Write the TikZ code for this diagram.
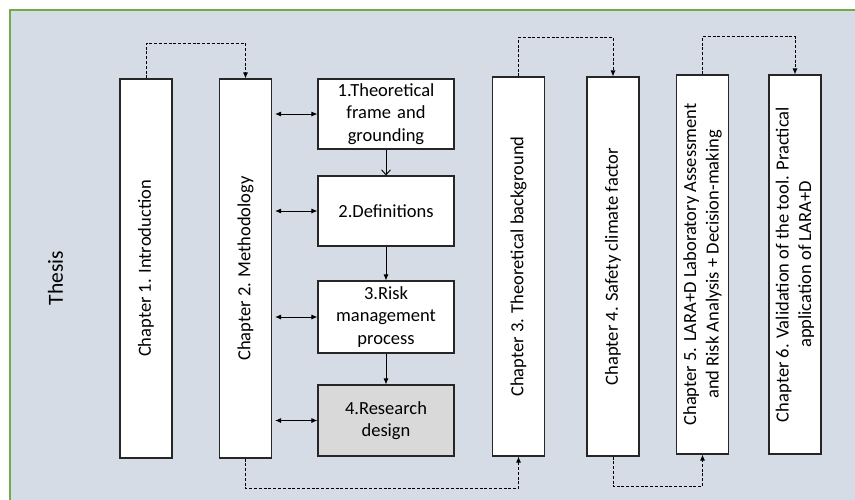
\documentclass[tikz,border=0pt]{standalone}
\usepackage{fontspec}
\setmainfont{Carlito}
\usetikzlibrary{arrows.meta, calc, positioning}
\definecolor{panelblue}{HTML}{D6DCE5}
\definecolor{panelgreen}{HTML}{70AD47}
\definecolor{designgray}{HTML}{D9D9D9}
\tikzstyle{chapter} = [rectangle, rotate=90, minimum width=379pt, minimum height=52pt,
inner sep=2pt, align=center, draw=black!85, line width=1.1pt, fill=white]
\tikzstyle{method} = [rectangle, minimum width=136pt, minimum height=70pt, text width=126pt,
align=center, inner sep=0pt, draw=black!85, line width=1.1pt, fill=white]
\tikzstyle{link} = [line width=0.9pt,{Latex[length=6pt,width=5pt]}-{Latex[length=6pt,width=5pt]}]
\tikzstyle{arrow} = [line width=0.9pt,-{Latex[length=6pt,width=5pt]}]
\tikzstyle{jump} = [line width=0.9pt,-{Latex[length=6pt,width=5pt]}, dash pattern=on 3pt off 1.8pt]

\begin{document}
\begin{tikzpicture}[x=1pt, y=-1pt, font=\fontsize{18.5}{22.5}\selectfont]
  \useasboundingbox (0,0) rectangle (855,499);
  \fill[panelblue] (10,10) rectangle (857,501);
  \draw[panelgreen, line width=1.6pt] (10,501) -- (10,10) -- (857,10);

  \node (thesis) [rotate=90, font=\fontsize{21.5}{26}\selectfont] at (55.5,278) {Thesis};

  \node (ch1) [chapter] at (146,268.5) {Chapter 1. Introduction};
  \node (ch2) [chapter] at (245.5,268.5) {Chapter 2. Methodology};
  \node (ch3) [chapter] at (518.5,266.5) {Chapter 3. Theoretical background};
  \node (ch4) [chapter] at (613,266.5) {Chapter 4. Safety climate factor};
  \node (ch5) [chapter] at (702.5,264.5) {Chapter 5. LARA+D Laboratory Assessment\\and Risk Analysis + Decision-making};
  \node (ch6) [chapter] at (795,264.5) {Chapter 6. Validation of the tool. Practical\\application of LARA+D};

  \node (frame) [method] at (386,114) {1.Theoretical\\frame and\\grounding};
  \node (defs) [method] at (386,211) {2.Definitions};
  \node (risk) [method, minimum height=72pt] at (386,317) {3.Risk\\management\\process};
  \node (design) [method, minimum height=71pt, fill=designgray] at (386,420.5) {4.Research\\design};

  \draw[line width=0.9pt, -{Straight Barb[length=5pt,width=9pt]}] (frame) -- (defs);
  \draw[arrow] (defs) -- (risk);
  \draw[arrow] (risk) -- (design);

  \foreach \m in {frame, defs, risk, design}
    \draw[link, shorten <=3pt] (\m.west -| ch2.south) -- (\m.west);

  \draw[jump] (ch1.east) -- ++(0,-35) -| (ch2.east);
  \draw[jump] (ch2.west) -- ++(0,30) -| (ch3.west);
  \draw[jump] (ch3.east) -- ++(0,-39) -| (ch4.east);
  \draw[jump] (ch4.west) -- ++(0,30) -| (ch5.west);
  \draw[jump] (ch5.east) -- ++(0,-38) -| (ch6.east);
\end{tikzpicture}
\end{document}
